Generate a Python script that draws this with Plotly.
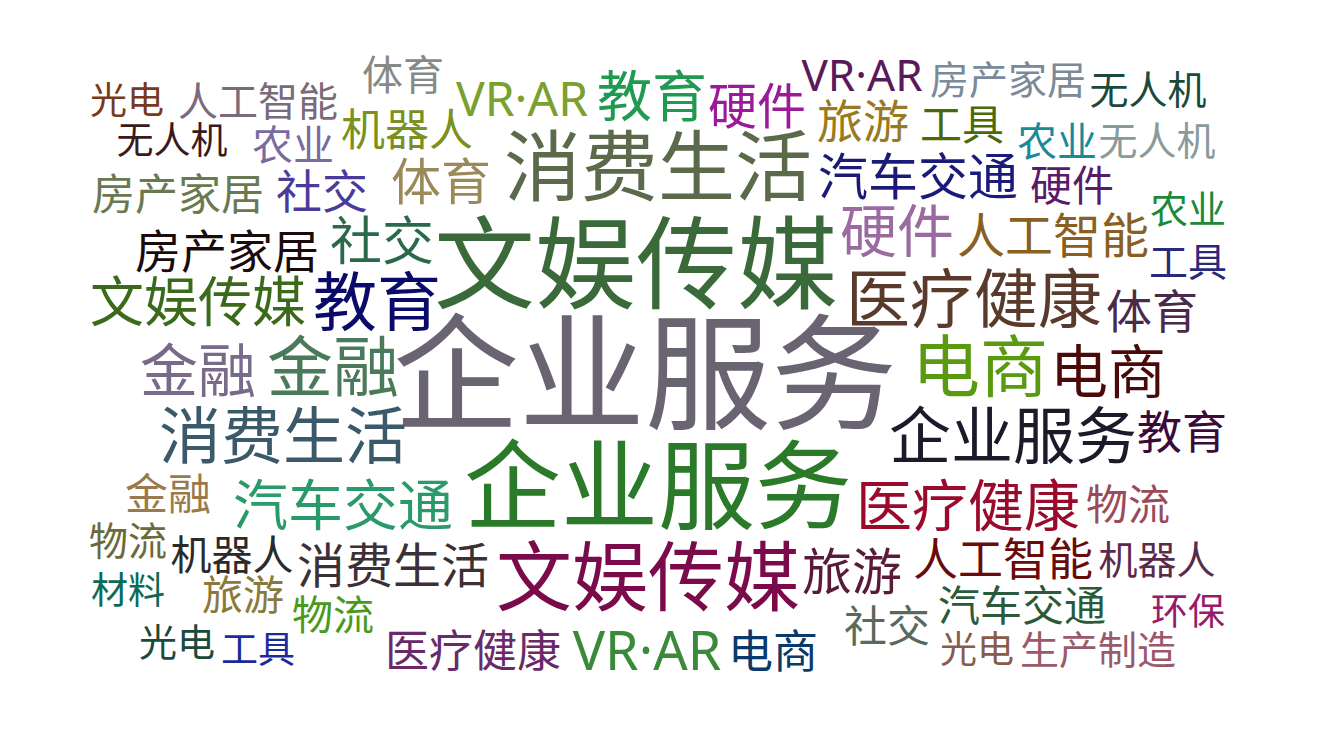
import plotly.graph_objects as go

# Words of the cloud and their weights (rendered font size, px)
words = [
    "光电", "人工智能", "体育", "VR·AR", "无人机", "农业", "机器人", "房产家居", "社交", "体育",
    "房产家居", "社交", "文娱传媒", "教育", "教育", "硬件", "VR·AR", "房产家居", "旅游", "工具",
    "无人机", "农业", "无人机", "消费生活", "汽车交通", "硬件", "硬件", "人工智能", "农业", "工具",
    "文娱传媒", "医疗健康", "体育", "企业服务", "金融", "金融", "消费生活", "金融", "汽车交通", "物流",
    "机器人", "消费生活", "材料", "旅游", "物流", "光电", "工具", "医疗健康", "企业服务", "文娱传媒",
    "旅游", "VR·AR", "电商", "社交", "电商", "电商", "企业服务", "教育", "医疗健康", "物流",
    "人工智能", "机器人", "汽车交通", "环保", "光电", "生产制造",
]
weights = [
    37, 40, 41, 48, 37, 41, 44, 43, 46, 50,
    46, 52, 54, 64, 55, 49, 44, 39, 46, 42,
    39, 40, 39, 77, 50, 57, 42, 48, 38, 39,
    101, 64, 46, 126, 58, 66, 62, 43, 55, 39,
    41, 48, 37, 41, 41, 38, 37, 44, 97, 76,
    50, 54, 45, 43, 68, 58, 62, 45, 56, 42,
    45, 39, 42, 37, 37, 39,
]

# Placement of each word (pixel coordinates of the word centre)
pos_x = [
    127, 258, 403, 522, 172, 293, 407, 178, 322, 441,
    227, 382, 198, 377, 652, 757, 862, 1008, 863, 962,
    1148, 1057, 1157, 658, 918, 897, 1072, 1053, 1188, 1188,
    636, 974, 1152, 645, 198, 333, 283, 168, 343, 128,
    232, 393, 128, 243, 333, 177, 258, 473, 658, 648,
    852, 647, 773, 887, 980, 1108, 1013, 1182, 968, 1128,
    1003, 1157, 1022, 1188, 977, 1098,
]
pos_y = [
    99, 100, 74, 98, 139, 144, 129, 193, 190, 181,
    250, 241, 302, 303, 96, 106, 74, 78, 120, 123,
    88, 140, 139, 170, 176, 232, 184, 235, 207, 260,
    270, 300, 310, 382, 371, 368, 437, 493, 505, 539,
    554, 565, 589, 594, 614, 640, 648, 650, 491, 580,
    571, 650, 651, 625, 369, 372, 437, 432, 506, 503,
    559, 558, 604, 610, 648, 648,
]
colors = [
    "#7a3a1a", "#7a6a7a", "#858a88", "#7aa030", "#3a1a1a", "#7a6aa0", "#7a9020", "#6a7a50", "#4a3a9a", "#9a8a5a",
    "#1a0a0a", "#2a6a4a", "#3a6a1a", "#0a0a6a", "#209a50", "#9a1a9a", "#5a1a5a", "#7a8a9a", "#9a7a20", "#4a6a0a",
    "#1a4a3a", "#1a8a9a", "#8a9a9a", "#5a6a4a", "#1a1a7a", "#9a6aa0", "#5a1a6a", "#8a6020", "#1a8a3a", "#2a2a7a",
    "#3a6a3a", "#5a3a2a", "#4a2a4a", "#6a6472", "#7a6a8a", "#4a7a5a", "#3a5a6a", "#9a7a4a", "#2a9a6a", "#6a6a3a",
    "#2a2a2a", "#3a3035", "#0a6a5a", "#8a7a3a", "#4a9a1a", "#1a4a3a", "#1a2a9a", "#6a2a6a", "#2a7a2a", "#7a0a4a",
    "#5a1a3a", "#3a8a3a", "#0a3a6a", "#5a6a5a", "#5a9a10", "#4a0a0a", "#1a1a2a", "#3a0a3a", "#9a0a2a", "#9a4a5a",
    "#6a0a0a", "#5a2a4a", "#2a5a3a", "#9a1a6a", "#8a5a4a", "#9a5a6a",
]

W, H = 1337, 729
OFF_X, OFF_Y = 8, 2  # compensate page margin / glyph baseline

fig = go.Figure(
    go.Scatter(
        x=pos_x,
        y=pos_y,
        mode="text",
        text=words,
        textposition="middle center",
        textfont=dict(size=weights, color=colors, family="Noto Sans, Noto Sans CJK SC"),
        hoverinfo="text",
    )
)
fig.update_layout(
    width=W,
    height=H,
    margin=dict(l=0, r=0, t=0, b=0),
    paper_bgcolor="white",
    plot_bgcolor="white",
    showlegend=False,
    xaxis=dict(range=[OFF_X, W + OFF_X], visible=False, fixedrange=True),
    yaxis=dict(range=[H + OFF_Y, OFF_Y], visible=False, fixedrange=True),
)
fig.write_html("out.html")
